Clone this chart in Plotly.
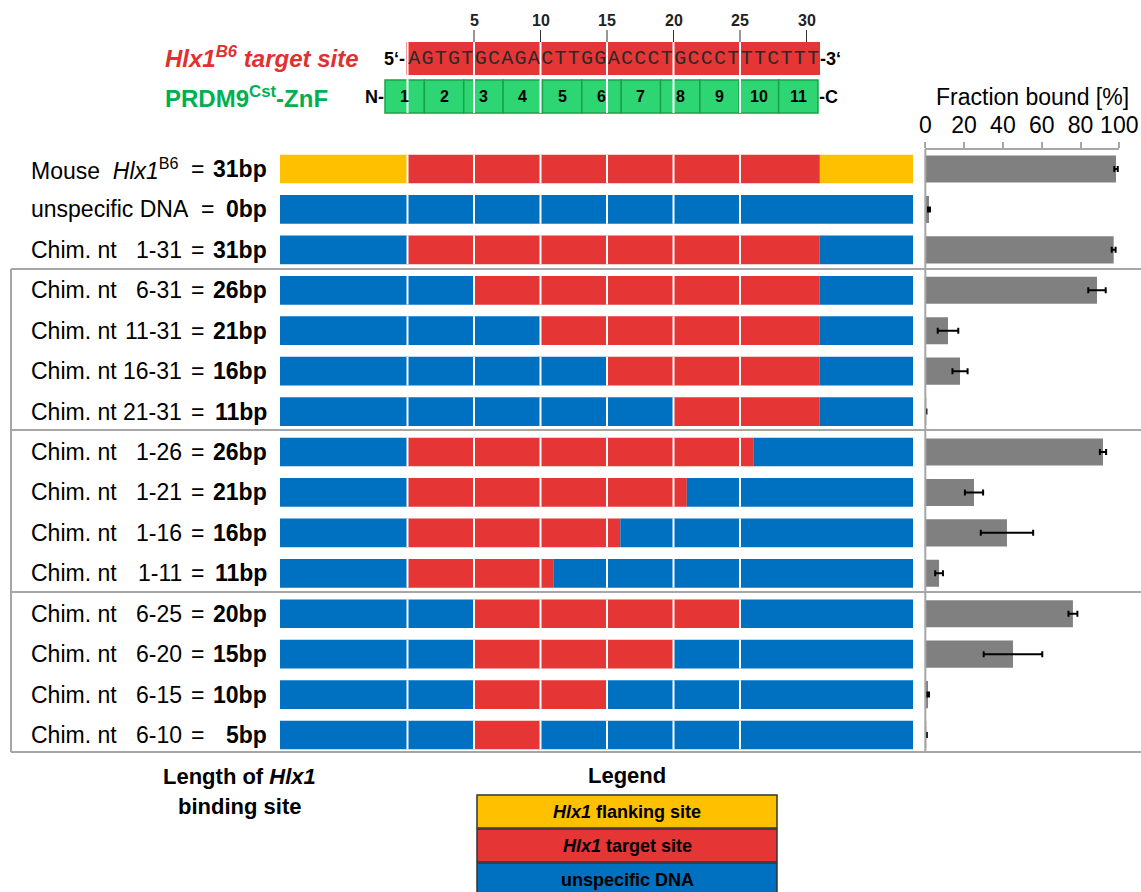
import plotly.graph_objects as go

# ---------------- data ----------------
row_prefix = ["Mouse\u00a0\u00a0<i>Hlx1</i><sup>B6</sup>", "unspecific DNA"] + ["Chim. nt"] * 13
row_range = ["", "", "1-31", "6-31", "11-31", "16-31", "21-31",
             "1-26", "1-21", "1-16", "1-11", "6-25", "6-20", "6-15", "6-10"]
target_start = [1, None, 1, 6, 11, 16, 21, 1, 1, 1, 1, 6, 6, 6, 6]
target_end = [31, None, 31, 31, 31, 31, 31, 26, 21, 16, 11, 25, 20, 15, 10]
binding_len = [31, 0, 31, 26, 21, 16, 11, 26, 21, 16, 11, 20, 15, 10, 5]
flank_kind = ["flanking"] + ["unspecific"] * 14
fraction_bound = [98.3, 1.9, 97.1, 88.5, 11.7, 17.9, 0.4, 91.6, 25.1, 42.1, 7.1, 76.1, 45.2, 1.4, 0.5]
fraction_err = [0.9, 0.5, 1.0, 4.5, 5.3, 3.9, 0.2, 1.6, 4.7, 13.5, 2.0, 2.3, 15.1, 0.5, 0.3]
target_seq = "AGTGTGCAGACTTGGACCCTGCCCTTTCTTT"
position_ticks = [5, 10, 15, 20, 25, 30]
znf_labels = [str(k) for k in range(1, 12)]
block_edges = [0, 5, 10, 15, 20, 25]
fraction_ticks = [0, 20, 40, 60, 80, 100]
legend_items = ["<i>Hlx1</i> flanking site", "<i>Hlx1</i> target site", "unspecific DNA"]

# ---------------- style / layout constants ----------------
W, H = 1141, 892
YELLOW, RED, BLUE = "#FFC000", "#E53535", "#0070C0"
GREEN_FILL, GREEN_LINE, GREEN_TXT = "#2DD672", "#17A34A", "#00B050"
GRAY_BAR, GRAY_LINE = "#808080", "#A6A6A6"
FONT = "Liberation Sans, Arial, sans-serif"
MONO = "Liberation Mono, Courier New, monospace"

A0, SX = 407.5, 13.3      # pixel of nucleotide boundary 0, px per nt
Y0, DY = 169.0, 40.43     # pixel of first row centre, px per row


def ux(px):
    return (px - A0) / SX


def yv(py):
    return (py - Y0) / DY


def xp(px):
    return px / W


def ypp(py):
    return 1 - py / H


n = len(row_range)
rows = list(range(n))
LEFT, RIGHT = ux(280), ux(913)
BAR_W = 0.71

fig = go.Figure()

# ---------------- stacked construct bars ----------------
seg = {YELLOW: ([], [], []), RED: ([], [], []), BLUE: ([], [], [])}
for i in rows:
    flank = YELLOW if flank_kind[i] == "flanking" else BLUE
    s, e = target_start[i], target_end[i]
    cuts = [LEFT, 0, 31, RIGHT]
    if s is not None:
        cuts += [s - 1, e]
    cuts = sorted(set(cuts))
    pieces = []
    for a, b in zip(cuts[:-1], cuts[1:]):
        m = (a + b) / 2
        if m < 0 or m > 31:
            c = flank
        elif s is not None and s - 1 <= m <= e:
            c = RED
        else:
            c = BLUE
        if pieces and pieces[-1][2] == c:
            pieces[-1][1] = b
        else:
            pieces.append([a, b, c])
    for a, b, c in pieces:
        seg[c][0].append(i)
        seg[c][1].append(b - a)
        seg[c][2].append(a)

for c, (ys, ws, bs) in seg.items():
    fig.add_trace(go.Bar(y=ys, x=ws, base=bs, orientation="h", width=BAR_W,
                         marker=dict(color=c, line=dict(width=0)), opacity=1,
                         xaxis="x", yaxis="y", hoverinfo="skip", showlegend=False))

# white block separators on construct bars
lx, ly = [], []
for i in rows:
    for b in block_edges:
        lx += [b, b, None]
        ly += [i - BAR_W / 2, i + BAR_W / 2, None]
fig.add_trace(go.Scatter(x=lx, y=ly, mode="lines", line=dict(color="white", width=2),
                         xaxis="x", yaxis="y", hoverinfo="skip", showlegend=False))

# ---------------- header: target sequence & ZnF array ----------------
shapes = []
seq_top, seq_bot = yv(42), yv(75)
znf_top, znf_bot = yv(80), yv(113)
shapes.append(dict(type="rect", xref="x", yref="y", x0=ux(406), x1=ux(820), y0=seq_top, y1=seq_bot,
                   fillcolor=RED, line=dict(width=0), layer="below"))
z0, z1 = ux(385), ux(818)
zw = (z1 - z0) / len(znf_labels)
for k in range(len(znf_labels)):
    shapes.append(dict(type="rect", xref="x", yref="y", x0=z0 + k * zw, x1=z0 + (k + 1) * zw,
                       y0=znf_top, y1=znf_bot, fillcolor=GREEN_FILL,
                       line=dict(color=GREEN_LINE, width=1.5), layer="below"))

hx, hy = [], []
for b in block_edges:
    hx += [b, b, None]
    hy += [seq_top, znf_bot, None]
fig.add_trace(go.Scatter(x=hx, y=hy, mode="lines", line=dict(color="white", width=2),
                         xaxis="x", yaxis="y", hoverinfo="skip", showlegend=False))
tx, ty = [], []
for p in position_ticks:
    tx += [p, p, None]
    ty += [yv(30), seq_top, None]
fig.add_trace(go.Scatter(x=tx, y=ty, mode="lines", line=dict(color="#333333", width=1),
                         xaxis="x", yaxis="y", hoverinfo="skip", showlegend=False))

fig.add_trace(go.Scatter(x=[k + 0.5 for k in range(len(target_seq))],
                         y=[(seq_top + seq_bot) / 2] * len(target_seq),
                         text=list(target_seq), mode="text",
                         textfont=dict(family=MONO, size=20, color="#2a2a2a"),
                         xaxis="x", yaxis="y", hoverinfo="skip", showlegend=False))

ann = []


def note(x, y, text, font, xref="paper", yref="paper", xanchor="center"):
    ann.append(dict(x=x, y=y, xref=xref, yref=yref, text=text, showarrow=False,
                    xanchor=xanchor, yanchor="middle", font=font))


for p in position_ticks:
    note(p, yv(20), f"<b>{p}</b>", dict(family=FONT, size=16, color="#222"), xref="x", yref="y")
for k, lab in enumerate(znf_labels):
    note(z0 + (k + 0.5) * zw, (znf_top + znf_bot) / 2, f"<b>{lab}</b>",
         dict(family=FONT, size=16, color="black"), xref="x", yref="y")
HDR = dict(family=FONT, size=18, color="black")
note(xp(407), ypp(59), "<b>5‘-</b>", HDR, xanchor="right")
note(xp(818), ypp(59), "<b>-3‘</b>", HDR, xanchor="left")
note(xp(386), ypp(97), "<b>N-</b>", HDR, xanchor="right")
note(xp(817), ypp(97), "<b>-C</b>", HDR, xanchor="left")
note(xp(163), ypp(57), "<b><i>Hlx1<sup>B6</sup> target site</i></b>",
     dict(family=FONT, size=24, color="#E03030"), xanchor="left")
note(xp(163), ypp(97), "<b>PRDM9<sup>Cst</sup>-ZnF</b>",
     dict(family=FONT, size=24, color=GREEN_TXT), xanchor="left")

# ---------------- row labels ----------------
LBL = dict(family=FONT, size=23, color="black")
for i in rows:
    note(xp(29), i, row_prefix[i], LBL, yref="y", xanchor="left")
    if row_range[i]:
        note(xp(184), i, row_range[i], LBL, yref="y", xanchor="right")
    eqx = 207 if not row_range[i] and flank_kind[i] != "flanking" else 197.5
    note(xp(eqx), i, "=", LBL, yref="y")
    note(xp(269), i, f"<b>{binding_len[i]}bp</b>", LBL, yref="y", xanchor="right")

# ---------------- fraction bound panel ----------------
fig.add_trace(go.Bar(y=rows, x=fraction_bound, orientation="h", width=0.67,
                     marker=dict(color=GRAY_BAR, line=dict(width=0)), opacity=1,
                     error_x=dict(type="data", array=fraction_err, color="black", thickness=2, width=3),
                     xaxis="x2", yaxis="y", hoverinfo="skip", showlegend=False))
note(xp(1032), ypp(97), "Fraction bound [%]", dict(family=FONT, size=23, color="black"))

# group frames
for py in [269, 430, 592, 752]:
    shapes.append(dict(type="line", xref="paper", yref="paper", x0=xp(11), x1=1, y0=ypp(py), y1=ypp(py),
                       line=dict(color=GRAY_LINE, width=2)))
shapes.append(dict(type="line", xref="paper", yref="paper", x0=xp(11), x1=xp(11), y0=ypp(269), y1=ypp(752),
                   line=dict(color=GRAY_LINE, width=2)))
shapes.append(dict(type="line", xref="paper", yref="paper", x0=xp(925.3), x1=xp(925.3), y0=ypp(149), y1=ypp(752),
                   line=dict(color=GRAY_LINE, width=2)))

# ---------------- bottom texts & legend ----------------
BOLD = dict(family=FONT, size=22, color="black")
note(xp(239), ypp(776), "<b>Length of <i>Hlx1</i></b>", BOLD)
note(xp(239), ypp(806), "<b>binding site</b>", BOLD)
note(xp(627), ypp(775), "<b>Legend</b>", BOLD)
leg_cols = [YELLOW, RED, BLUE]
leg_top = [795, 829, 863]
for lab, c, t in zip(legend_items, leg_cols, leg_top):
    shapes.append(dict(type="rect", xref="paper", yref="paper", x0=xp(477), x1=xp(777),
                       y0=ypp(t), y1=ypp(t + 33), fillcolor=c, line=dict(color="#333333", width=1.5)))
    note(xp(627), ypp(t + 16.5), f"<b>{lab}</b>", dict(family=FONT, size=18, color="black"))

fig.update_layout(
    width=W, height=H, autosize=False,
    margin=dict(l=0, r=0, t=0, b=0, pad=0, autoexpand=False),
    paper_bgcolor="white", plot_bgcolor="rgba(0,0,0,0)",
    barmode="overlay", showlegend=False,
    xaxis=dict(domain=[0, 1], range=[ux(0), ux(W)], visible=False, fixedrange=True, automargin=False),
    xaxis2=dict(domain=[xp(925.3), xp(1119.3)], range=[0, 100], anchor="free", position=ypp(149),
                side="top", showline=True, linecolor=GRAY_LINE, linewidth=2,
                ticks="outside", ticklen=6, tickwidth=1.5, tickcolor=GRAY_LINE,
                tickvals=fraction_ticks, ticktext=[str(v) for v in fraction_ticks],
                tickfont=dict(family=FONT, size=23, color="black"),
                showgrid=False, zeroline=False, fixedrange=True, automargin=False),
    yaxis=dict(domain=[0, 1], range=[yv(H), yv(0)], visible=False, fixedrange=True, automargin=False),
    shapes=shapes, annotations=ann,
)

fig.write_html("out.html", config={"responsive": False, "displayModeBar": False},
               post_script="document.body.style.margin='0px';document.body.style.overflow='hidden';")
